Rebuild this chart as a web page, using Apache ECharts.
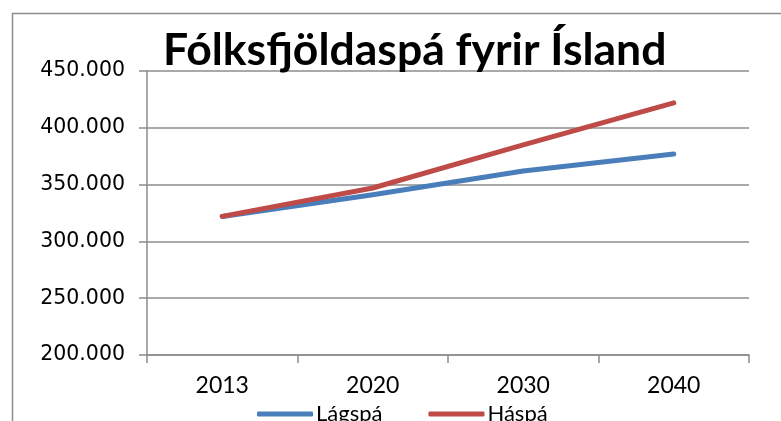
<!DOCTYPE html>
<html>
<head>
<meta charset="utf-8">
<script src="https://cdn.jsdelivr.net/npm/echarts@6/dist/echarts.min.js"></script>
<style>
  html, body { margin: 0; padding: 0; background: #fff; }
  #chart { width: 781px; height: 421px; }
</style>
</head>
<body>
<div id="chart"></div>
<script>
var years = ["2013", "2020", "2030", "2040"];
var lagspa = [322000, 341000, 362000, 377000];
var haspa = [322000, 347000, 385000, 422000];
var yMin = 200000, yMax = 450000, yStep = 50000;

var chartDom = document.getElementById("chart");
var myChart = echarts.init(chartDom);

// 450000 -> "450.000"
function fmt(v) {
  return String(v).replace(/\B(?=(\d{3})+(?!\d))/g, ".");
}

var option = {
  animation: false,
  title: {
    text: "Fólksfjöldaspá fyrir Ísland",
    left: 158,
    top: 23,
    textStyle: {
      fontFamily: "Lato",
      fontWeight: "bold",
      fontSize: 44.5,
      color: "#000",
    },
  },
  graphic: [
    {
      type: "rect",
      shape: { x: 12.5, y: 13.5, width: 800, height: 450 },
      style: { fill: "none", stroke: "#8c8c8c", lineWidth: 1.5 },
      silent: true,
    },
  ],
  legend: {
    left: 252,
    top: 398,
    itemWidth: 56,
    itemHeight: 5,
    itemGap: 46,
    icon: "roundRect",
    textStyle: { fontFamily: "Lato", fontSize: 22, color: "#000", padding: [0, 0, 0, -2] },
    data: ["Lágspá", "Háspá"],
  },
  grid: {
    left: 147,
    right: 32,
    top: 71,
    bottom: 66,
    containLabel: false,
  },
  xAxis: {
    type: "category",
    data: years,
    boundaryGap: true,
    axisLine: { lineStyle: { color: "#8c8c8c", width: 1.5 } },
    axisTick: { show: true, length: 8, lineStyle: { color: "#8c8c8c", width: 1.5 } },
    axisLabel: {
      margin: 19,
      fontFamily: "Lato",
      fontSize: 23,
      color: "#000",
    },
  },
  yAxis: {
    type: "value",
    min: yMin,
    max: yMax,
    interval: yStep,
    axisLine: { show: true, lineStyle: { color: "#8c8c8c", width: 1.5 } },
    axisTick: { show: true, length: 8, lineStyle: { color: "#8c8c8c", width: 1.5 } },
    splitLine: { lineStyle: { color: "#8c8c8c", width: 1.5 } },
    axisLabel: {
      margin: 22,
      fontFamily: "DejaVu Sans",
      fontSize: 20.5,
      color: "#000",
      formatter: fmt,
    },
  },
  series: [
    {
      name: "Lágspá",
      type: "line",
      data: lagspa,
      symbol: "none",
      lineStyle: { color: "#4a7ebb", width: 5, cap: "round", join: "round" },
      itemStyle: { color: "#4a7ebb" },
    },
    {
      name: "Háspá",
      type: "line",
      data: haspa,
      symbol: "none",
      lineStyle: { color: "#be4b48", width: 5, cap: "round", join: "round" },
      itemStyle: { color: "#be4b48" },
    },
  ],
};

option && myChart.setOption(option);
</script>
</body>
</html>
